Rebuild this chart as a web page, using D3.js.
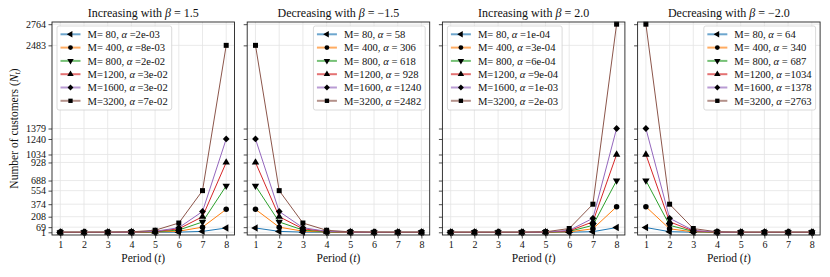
<!DOCTYPE html>
<html>
<head>
<meta charset="utf-8">
<script src="https://cdn.jsdelivr.net/npm/d3@7"></script>
<style>
  body { margin: 0; background: #fff; }
  text { font-family: 'Liberation Serif', 'DejaVu Serif', serif; }
</style>
</head>
<body>
<div class="canvas"></div>
<script>
// Data
const periods = [1, 2, 3, 4, 5, 6, 7, 8]
const mValues = [80, 400, 800, 1200, 1600, 3200]
const yTicks = [1, 69, 208, 374, 554, 688, 928, 1034, 1240, 1379, 2483, 2764]

const alphaInc15 = ['2e-03', '8e-03', '2e-02', '3e-02', '3e-02', '7e-02']
const alphaDec15 = [' 58', ' 306', ' 618', ' 928', '1240', '2482']
const alphaInc20 = ['1e-04', '3e-04', '6e-04', '9e-04', '1e-03', '2e-03']
const alphaDec20 = [' 64', ' 340', ' 687', '1034', '1378', '2763']

const inc15 = [
  [1, 1, 1, 1, 1, 3, 13, 58],
  [1, 1, 1, 1, 4, 16, 69, 306],
  [1, 1, 1, 2, 7, 31, 138, 618],
  [1, 1, 1, 3, 11, 47, 208, 928],
  [1, 1, 1, 4, 14, 62, 277, 1240],
  [1, 1, 2, 7, 28, 124, 554, 2483]
]
const dec15 = [
  [58, 13, 3, 1, 1, 1, 1, 1],
  [306, 69, 16, 4, 1, 1, 1, 1],
  [618, 138, 31, 7, 2, 1, 1, 1],
  [928, 208, 47, 11, 3, 1, 1, 1],
  [1240, 277, 62, 14, 4, 1, 1, 1],
  [2483, 554, 124, 28, 7, 2, 1, 1]
]
const inc20 = [
  [1, 1, 1, 1, 1, 2, 9, 64],
  [1, 1, 1, 1, 1, 7, 47, 340],
  [1, 1, 1, 1, 2, 13, 93, 688],
  [1, 1, 1, 1, 3, 19, 140, 1034],
  [1, 1, 1, 1, 4, 26, 187, 1379],
  [1, 1, 1, 1, 7, 51, 374, 2764]
]
const dec20 = [
  [64, 9, 2, 1, 1, 1, 1, 1],
  [340, 47, 7, 1, 1, 1, 1, 1],
  [688, 93, 13, 2, 1, 1, 1, 1],
  [1034, 140, 19, 3, 1, 1, 1, 1],
  [1379, 187, 26, 4, 1, 1, 1, 1],
  [2764, 374, 51, 7, 1, 1, 1, 1]
]

const panels = [
  { kind: 'Increasing', beta: '1.5', values: inc15, alphas: alphaInc15, legend: 'left' },
  { kind: 'Decreasing', beta: '\u22121.5', values: dec15, alphas: alphaDec15, legend: 'right' },
  { kind: 'Increasing', beta: '2.0', values: inc20, alphas: alphaInc20, legend: 'left' },
  { kind: 'Decreasing', beta: '\u22122.0', values: dec20, alphas: alphaDec20, legend: 'right' }
]

const layout = { left: 52, step: 195.2, width: 182.5, top: 22, bottom: 235 }
const colors = d3.schemeCategory10
const shapes = ['left', 'circle', 'down', 'up', 'diamond', 'square']

const svg = d3.select('.canvas')
  .append('svg')
    .attr('width', 830)
    .attr('height', 277)

const x = d3.scaleLinear().domain([0.65, 8.35]).range([0, layout.width])
const y = d3.scaleLinear().domain([-35, 2793]).range([layout.bottom, layout.top])

const line = d3.line()
  .x((d, i) => x(periods[i]))
  .y(d => y(d))

// Marker paths, roughly matplotlib-sized
const markerPath = (shape, scale) => {
  const s = scale || 1
  switch (shape) {
    case 'circle': return d3.symbol(d3.symbolCircle, 24 * s)()
    case 'square': return d3.symbol(d3.symbolSquare, 25 * s)()
    case 'diamond': return d3.symbol(d3.symbolSquare, 23 * s)()
    default: return d3.symbol(d3.symbolTriangle, 24 * s)()
  }
}
const markerRotate = shape => ({ left: -90, down: 180, diamond: 45 }[shape] || 0)

panels.forEach((p, pi) => {
  const g = svg.append('g')
    .attr('transform', `translate(${layout.left + pi * layout.step}, 0)`)

  // Grid
  g.append('g').selectAll('line.gx')
    .data(periods)
    .enter().append('line')
      .attr('x1', d => x(d)).attr('x2', d => x(d))
      .attr('y1', layout.top).attr('y2', layout.bottom)
      .attr('stroke', '#e4e4e4').attr('stroke-width', 0.8)
  g.append('g').selectAll('line.gy')
    .data(yTicks)
    .enter().append('line')
      .attr('x1', 0).attr('x2', layout.width)
      .attr('y1', d => y(d)).attr('y2', d => y(d))
      .attr('stroke', '#e4e4e4').attr('stroke-width', 0.8)

  // Axes
  const yAxis = d3.axisLeft(y).tickValues(yTicks).tickSize(3.5).tickPadding(2.5)
    .tickFormat(pi > 0 ? '' : d3.format('d'))
  const ya = g.append('g').call(yAxis)
  const xa = g.append('g')
    .attr('transform', `translate(0, ${layout.bottom})`)
    .call(d3.axisBottom(x).tickValues(periods).tickSize(3.5).tickPadding(2.5))
  ;[ya, xa].forEach(a => {
    a.select('.domain').remove()
    a.attr('font-family', null).attr('font-size', 10)
    a.selectAll('line').attr('stroke', '#222').attr('stroke-width', 0.8)
    a.selectAll('text').attr('fill', '#111')
  })

  // Series
  p.values.forEach((vals, si) => {
    g.append('path')
      .attr('d', line(vals))
      .attr('fill', 'none')
      .attr('stroke', colors[si])
      .attr('stroke-width', 1)
    g.append('g').selectAll('path')
      .data(vals)
      .enter().append('path')
        .attr('d', markerPath(shapes[si]))
        .attr('transform', (d, i) => `translate(${x(periods[i])}, ${y(d)}) rotate(${markerRotate(shapes[si])})`)
        .attr('fill', '#000')
  })

  // Spines
  g.append('rect')
    .attr('x', 0).attr('y', layout.top)
    .attr('width', layout.width).attr('height', layout.bottom - layout.top)
    .attr('fill', 'none').attr('stroke', '#222').attr('stroke-width', 0.9)

  // Title
  const title = g.append('text')
    .attr('x', layout.width / 2).attr('y', 17)
    .attr('text-anchor', 'middle').attr('font-size', 12).attr('fill', '#111')
  title.append('tspan').text(`${p.kind} with `)
  title.append('tspan').attr('font-style', 'italic').text('\u03b2')
  title.append('tspan').text(` = ${p.beta}`)

  // X label
  const xl = g.append('text')
    .attr('x', layout.width / 2).attr('y', 262)
    .attr('text-anchor', 'middle').attr('font-size', 11.5).attr('fill', '#111')
  xl.append('tspan').text('Period (')
  xl.append('tspan').attr('font-style', 'italic').text('t')
  xl.append('tspan').text(')')

  // Legend
  const lg = g.append('g')
  const box = lg.append('rect')
    .attr('rx', 2).attr('fill', '#fff').attr('fill-opacity', 0.85)
    .attr('stroke', '#d0d0d0').attr('stroke-width', 0.8)
  let maxLen = 0
  mValues.forEach((m, si) => {
    const ry = 8.3 + si * 13.3
    lg.append('line')
      .attr('x1', 3.5).attr('x2', 23.5).attr('y1', ry).attr('y2', ry)
      .attr('stroke', colors[si]).attr('stroke-width', 2).attr('stroke-opacity', 0.65)
    lg.append('path')
      .attr('d', markerPath(shapes[si], 0.75))
      .attr('transform', `translate(13.5, ${ry}) rotate(${markerRotate(shapes[si])})`)
      .attr('fill', '#000')
    const t = lg.append('text')
      .attr('x', 30.5).attr('y', ry).attr('dy', '0.35em')
      .attr('font-size', 10.6).attr('fill', '#111')
    t.append('tspan').text(`M=${m < 1000 ? ' ' : ''}${m}, `)
    t.append('tspan').attr('font-style', 'italic').text('\u03b1')
    t.append('tspan').text(` =${p.alphas[si]}`)
    maxLen = Math.max(maxLen, t.node().getComputedTextLength())
  })
  const boxW = 30.5 + maxLen + 4
  box.attr('width', boxW).attr('height', 84)
  const lx = p.legend === 'left' ? 5 : layout.width - 4.5 - boxW
  lg.attr('transform', `translate(${lx}, 26)`)
})

// Y label
const yl = svg.append('text')
  .attr('transform', `translate(18, ${(layout.top + layout.bottom) / 2}) rotate(-90)`)
  .attr('text-anchor', 'middle').attr('font-size', 11.5).attr('fill', '#111')
yl.append('tspan').text('Number of customers (')
yl.append('tspan').attr('font-style', 'italic').text('N')
yl.append('tspan').attr('font-style', 'italic').attr('font-size', 8.5).attr('dy', 2).text('t')
yl.append('tspan').attr('dy', -2).text(')')
</script>
</body>
</html>
